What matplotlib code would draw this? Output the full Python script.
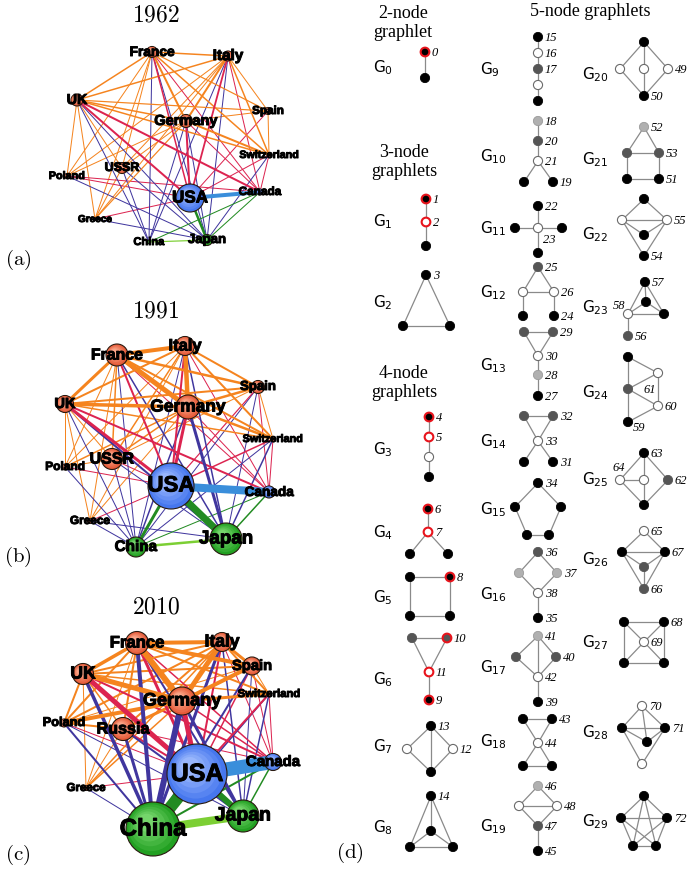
import matplotlib
matplotlib.use("Agg")
import matplotlib.pyplot as plt
from matplotlib.patches import Circle
from matplotlib.colors import to_rgb
import matplotlib.patheffects as pe

plt.rcParams['mathtext.fontset'] = 'dejavusans'
plt.rcParams['mathtext.default'] = 'regular'

# ------------------------------------------------------------------ data
CODES = ["FR", "IT", "UK", "DE", "ES", "CH", "RU", "PL", "US", "CA", "GR", "CN", "JP"]
REGION = ["EU", "EU", "EU", "EU", "EU", "EU", "EU", "EU", "AM", "AM", "EU", "AS", "AS"]

NAMES_1962 = ["France", "Italy", "UK", "Germany", "Spain", "Switzerland", "USSR", "Poland",
              "USA", "Canada", "Greece", "China", "Japan"]
NAMES_1991 = NAMES_1962
NAMES_2010 = ["France", "Italy", "UK", "Germany", "Spain", "Switzerland", "Russia", "Poland",
              "USA", "Canada", "Greece", "China", "Japan"]

# node strength (drawn as radius)
STRENGTH_1962 = [5.5, 5, 6, 6.5, 3.5, 2, 5.5, 2.5, 14, 3, 1.5, 1.5, 5.5]
STRENGTH_1991 = [11, 9.5, 8.5, 12, 6.5, 2.5, 10.5, 3, 23, 6, 2.5, 10, 16]
STRENGTH_2010 = [11.5, 9.5, 10.5, 14, 9, 2.5, 11.5, 4, 30, 8.5, 2.5, 27, 16]

EDGES_1962 = [
    ("FR", "IT", 1.5), ("FR", "UK", 1.5), ("FR", "DE", 2), ("FR", "ES", 1.2), ("FR", "CH", 1.5),
    ("FR", "RU", 1), ("FR", "PL", 1), ("FR", "GR", 1),
    ("IT", "UK", 1.5), ("IT", "DE", 2), ("IT", "ES", 1), ("IT", "CH", 1.5), ("IT", "RU", 1),
    ("IT", "PL", 1), ("IT", "GR", 1),
    ("UK", "DE", 1.5), ("UK", "ES", 1.2), ("UK", "CH", 1.5), ("UK", "RU", 1), ("UK", "PL", 1),
    ("UK", "GR", 1),
    ("DE", "ES", 1), ("DE", "CH", 2), ("DE", "RU", 1), ("DE", "PL", 1), ("DE", "GR", 1.2),
    ("ES", "CH", 1), ("RU", "GR", 1),
    ("US", "FR", 1.5), ("US", "IT", 1.8), ("US", "UK", 2), ("US", "DE", 2), ("US", "ES", 1),
    ("US", "CH", 1), ("US", "PL", 1), ("US", "GR", 1),
    ("CA", "UK", 2), ("CA", "FR", 1), ("CA", "IT", 1), ("CA", "DE", 1), ("CA", "CH", 1), ("CA", "PL", 1),
    ("JP", "FR", 1), ("JP", "IT", 1), ("JP", "UK", 1), ("JP", "DE", 1), ("JP", "CH", 1),
    ("JP", "GR", 1), ("JP", "PL", 1), ("JP", "RU", 1),
    ("CN", "FR", 1), ("CN", "UK", 1), ("CN", "DE", 1), ("CN", "IT", 1), ("CN", "RU", 1),
    ("US", "CA", 4), ("US", "JP", 2.5), ("CA", "JP", 1), ("CA", "CN", 1), ("CN", "JP", 1.2),
]

EDGES_1991 = [
    ("FR", "DE", 5), ("FR", "IT", 4), ("IT", "DE", 4.5), ("UK", "DE", 3.5), ("FR", "UK", 3),
    ("IT", "UK", 2), ("FR", "ES", 2.5), ("ES", "DE", 2.5), ("IT", "ES", 2), ("UK", "ES", 2),
    ("CH", "DE", 2.5), ("CH", "FR", 2), ("CH", "IT", 2), ("CH", "UK", 1.5), ("ES", "CH", 1),
    ("RU", "DE", 1.5), ("RU", "FR", 1.5), ("RU", "IT", 1.5), ("RU", "UK", 1), ("RU", "ES", 1),
    ("PL", "DE", 1.5), ("PL", "UK", 1), ("PL", "FR", 1), ("PL", "IT", 1), ("PL", "RU", 1),
    ("GR", "DE", 1), ("GR", "IT", 1), ("GR", "FR", 1), ("GR", "UK", 1),
    ("US", "DE", 3), ("US", "UK", 3), ("US", "FR", 2), ("US", "IT", 2), ("US", "ES", 1.2),
    ("US", "CH", 1.5), ("US", "RU", 1), ("US", "PL", 1), ("US", "GR", 1),
    ("CA", "UK", 2), ("CA", "DE", 1), ("CA", "FR", 1), ("CA", "IT", 1), ("CA", "CH", 1), ("CA", "ES", 1),
    ("JP", "DE", 3), ("JP", "UK", 2), ("JP", "FR", 1.5), ("JP", "IT", 1.5), ("JP", "CH", 1.5),
    ("JP", "ES", 1), ("JP", "RU", 1), ("JP", "GR", 1),
    ("CN", "DE", 1.5), ("CN", "UK", 1), ("CN", "FR", 1), ("CN", "IT", 1), ("CN", "RU", 1),
    ("CN", "GR", 1), ("CN", "PL", 1), ("CN", "ES", 1), ("CN", "CH", 1),
    ("US", "CA", 8), ("US", "JP", 7), ("US", "CN", 3), ("CA", "JP", 1.5), ("CA", "CN", 1),
    ("CN", "JP", 2.5),
]

EDGES_2010 = [
    ("FR", "DE", 6), ("FR", "IT", 4), ("IT", "DE", 5), ("UK", "DE", 5), ("FR", "UK", 3.5),
    ("FR", "ES", 4), ("ES", "DE", 4), ("IT", "ES", 3), ("UK", "ES", 2), ("UK", "IT", 2),
    ("CH", "DE", 3), ("CH", "FR", 2), ("CH", "IT", 2), ("CH", "UK", 1.5), ("CH", "ES", 1),
    ("RU", "DE", 3), ("RU", "IT", 2), ("RU", "FR", 2), ("RU", "UK", 1.5), ("RU", "ES", 1),
    ("PL", "DE", 4), ("PL", "FR", 2), ("PL", "IT", 2), ("PL", "UK", 2), ("PL", "RU", 2), ("PL", "ES", 1),
    ("GR", "DE", 1.5), ("GR", "IT", 1.5), ("GR", "FR", 1), ("GR", "UK", 1), ("GR", "RU", 1),
    ("US", "DE", 5), ("US", "UK", 5), ("US", "FR", 3), ("US", "IT", 2), ("US", "ES", 1.5),
    ("US", "CH", 2), ("US", "RU", 2), ("US", "PL", 1), ("US", "GR", 1),
    ("CA", "UK", 2), ("CA", "DE", 1.5), ("CA", "FR", 1.5), ("CA", "IT", 1), ("CA", "CH", 1),
    ("CA", "ES", 1), ("CA", "RU", 1),
    ("CN", "DE", 6), ("CN", "FR", 4), ("CN", "UK", 3.5), ("CN", "IT", 3), ("CN", "RU", 3),
    ("CN", "ES", 2), ("CN", "CH", 1.5), ("CN", "PL", 2), ("CN", "GR", 1),
    ("JP", "DE", 3), ("JP", "FR", 2), ("JP", "UK", 2), ("JP", "IT", 1.5), ("JP", "RU", 2),
    ("JP", "ES", 1), ("JP", "CH", 1.5), ("JP", "PL", 1),
    ("US", "CA", 14), ("US", "CN", 12), ("US", "JP", 6), ("CA", "CN", 2), ("CA", "JP", 1.5),
    ("CN", "JP", 8),
]

YEARS = ["1962", "1991", "2010"]
PANEL_TAGS = ["(a)", "(b)", "(c)", "(d)"]

# ------------------------------------------------------------------ layout (pixels)
LAYOUT_1962 = [(152, 53), (228, 57), (77, 101), (186, 122), (268, 112), (269, 156), (122, 169),
               (67, 177), (190, 199), (260, 193), (95, 220), (149, 243), (207, 241)]
LAYOUT_1991 = [(117, 356), (185, 347), (65, 405), (188, 408), (258, 388), (273, 440), (112, 460),
               (65, 468), (171, 487), (269, 493), (90, 522), (136, 548), (226, 540)]
LAYOUT_2010 = [(137, 644), (222, 643), (83, 675), (182, 702), (252, 667), (269, 695), (123, 730),
               (64, 724), (197, 775), (273, 763), (86, 789), (153, 830), (243, 817)]
LABEL_PT_1962 = [9.9, 11, 10.3, 10.5, 8.4, 7.7, 9, 7.8, 12.3, 8.5, 7.2, 8, 9.5]
LABEL_PT_1991 = [11.4, 11.9, 10.5, 12.5, 9.5, 7.8, 11.5, 8.6, 16, 9.8, 8.5, 11, 13.5]
LABEL_PT_2010 = [12, 12.6, 12.6, 13, 10.6, 8.1, 11.6, 9.2, 18, 10.8, 8.3, 17.3, 14]
TITLE_XY = [(156, 14), (156, 311), (156, 607)]
TAG_XY = [(18, 260), (18, 557), (18, 855), (350, 853)]

NODE_COL = {"EU": ("#E55A38", "#FFB59A"), "AM": ("#4677EE", "#A9C3FF"), "AS": ("#22A022", "#86E07A")}
EDGE_COL = {frozenset(["EU"]): "#F5841F", frozenset(["EU", "AM"]): "#DC2450",
            frozenset(["EU", "AS"]): "#40369E", frozenset(["AM"]): "#3A8EDB",
            frozenset(["AM", "AS"]): "#228B22", frozenset(["AS"]): "#7CCF34"}

# ------------------------------------------------------------------ graphlets
GRAPHLET_LABEL_XY = [(373, 68), (373, 222), (373, 303), (373, 450), (373, 533), (373, 598),
                     (373, 680), (373, 747), (373, 828),
                     (480, 70), (480, 157), (480, 229), (480, 293), (480, 366), (480, 442),
                     (480, 510), (480, 595), (480, 668), (480, 742), (480, 827),
                     (582, 75), (582, 160), (582, 235), (582, 308), (582, 393), (582, 480),
                     (582, 560), (582, 643), (582, 733), (582, 822)]
GRAPHLET_LAYOUT = [
    [(425, 53), (425, 79)],
    [(426, 200), (426, 223), (426, 247)],
    [(426, 276), (403, 327), (450, 327)],
    [(429, 418), (429, 438), (429, 458), (429, 478)],
    [(428, 510), (428, 533), (410, 555), (448, 555)],
    [(410, 578), (450, 578), (410, 617), (450, 617)],
    [(412, 639), (447, 639), (429, 673), (429, 701)],
    [(431, 727), (407, 750), (453, 750), (431, 773)],
    [(431, 797), (431, 832), (410, 848), (453, 848)],
    [(538, 38), (538, 54), (538, 70), (538, 86), (538, 102)],
    [(538, 122), (538, 142), (538, 162), (524, 183), (553, 183)],
    [(538, 207), (538, 229), (515, 229), (562, 229), (538, 254)],
    [(538, 268), (523, 293), (554, 293), (523, 317), (554, 317)],
    [(524, 333), (553, 333), (538, 357), (538, 376), (538, 397)],
    [(524, 417), (553, 417), (538, 442), (524, 463), (553, 463)],
    [(538, 484), (515, 508), (561, 508), (527, 536), (549, 536)],
    [(538, 553), (519, 574), (557, 574), (538, 594), (538, 619)],
    [(538, 637), (516, 658), (556, 658), (538, 678), (538, 703)],
    [(523, 720), (552, 720), (538, 744), (523, 767), (552, 767)],
    [(538, 787), (519, 807), (557, 807), (538, 827), (538, 852)],
    [(644, 43), (620, 70), (644, 70), (668, 70), (644, 97)],
    [(644, 128), (627, 154), (659, 154), (627, 180), (659, 180)],
    [(644, 200), (622, 221), (667, 221), (644, 236), (644, 257)],
    [(645, 283), (646, 303), (664, 315), (628, 315), (628, 337)],
    [(628, 358), (658, 374), (628, 390), (658, 407), (628, 423)],
    [(644, 454), (620, 481), (644, 481), (668, 481), (644, 506)],
    [(644, 532), (622, 553), (665, 553), (644, 568), (644, 590)],
    [(624, 623), (664, 623), (624, 664), (664, 664), (644, 643)],
    [(642, 707), (622, 729), (665, 729), (647, 743), (642, 765)],
    [(644, 797), (621, 819), (667, 819), (633, 847), (656, 847)],
]
GRAPHLET_NODE_TYPES = [
    ["rk", "k"], ["rk", "rw", "k"], ["k", "k", "k"],
    ["rk", "rw", "w", "k"], ["rk", "rw", "k", "k"], ["k", "rk", "k", "k"],
    ["d", "rd", "rw", "rk"], ["k", "w", "w", "k"], ["k", "k", "k", "k"],
    ["k", "w", "d", "w", "k"], ["l", "d", "w", "k", "k"], ["k", "w", "k", "k", "k"],
    ["d", "w", "w", "k", "k"], ["d", "d", "w", "l", "k"], ["d", "d", "w", "k", "k"],
    ["k", "k", "k", "k", "k"], ["d", "l", "l", "w", "k"], ["l", "d", "d", "w", "k"],
    ["k", "k", "w", "k", "k"], ["l", "w", "w", "d", "k"],
    ["k", "w", "w", "w", "k"], ["l", "d", "d", "k", "k"], ["k", "w", "w", "k", "k"],
    ["k", "k", "k", "w", "d"], ["k", "w", "d", "w", "k"], ["k", "w", "w", "d", "k"],
    ["w", "k", "k", "d", "d"], ["k", "k", "k", "k", "w"], ["w", "k", "k", "k", "w"],
    ["k", "k", "k", "k", "k"],
]
GRAPHLET_ORBITS = [
    ["0", ""], ["1", "2", ""], ["3", "", ""],
    ["4", "5", "", ""], ["6", "7", "", ""], ["", "8", "", ""],
    ["", "10", "11", "9"], ["13", "", "12", ""], ["14", "", "", ""],
    ["15", "16", "17", "", ""], ["18", "20", "21", "", "19"], ["22", "23", "", "", ""],
    ["25", "", "26", "", "24"], ["", "29", "30", "28", "27"], ["", "32", "33", "", "31"],
    ["34", "", "", "", ""], ["36", "", "37", "38", "35"], ["41", "", "40", "42", "39"],
    ["", "43", "44", "", ""], ["46", "", "48", "47", "45"],
    ["", "", "", "49", "50"], ["52", "", "53", "", "51"], ["", "", "55", "", "54"],
    ["57", "", "", "58", "56"], ["", "", "61", "60", "59"], ["63", "64", "", "62", ""],
    ["65", "", "67", "", "66"], ["", "68", "", "", "69"], ["70", "", "71", "", ""],
    ["", "", "72", "", ""],
]
K4 = [(0, 1), (0, 2), (0, 3), (1, 2), (1, 3), (2, 3)]
K5 = [(i, j) for i in range(5) for j in range(i + 1, 5)]
GRAPHLET_EDGES = [
    [(0, 1)], [(0, 1), (1, 2)], [(0, 1), (0, 2), (1, 2)],
    [(0, 1), (1, 2), (2, 3)], [(0, 1), (1, 2), (1, 3)], [(0, 1), (0, 2), (1, 3), (2, 3)],
    [(0, 1), (0, 2), (1, 2), (2, 3)], [(0, 1), (0, 2), (0, 3), (1, 3), (2, 3)], K4,
    [(0, 1), (1, 2), (2, 3), (3, 4)], [(0, 1), (1, 2), (2, 3), (2, 4)],
    [(0, 1), (1, 2), (1, 3), (1, 4)], [(0, 1), (0, 2), (1, 2), (1, 3), (2, 4)],
    [(0, 1), (0, 2), (1, 2), (2, 3), (3, 4)], [(0, 1), (0, 2), (1, 2), (2, 3), (2, 4)],
    [(0, 1), (0, 2), (1, 3), (2, 4), (3, 4)], [(0, 1), (0, 2), (1, 3), (2, 3), (3, 4)],
    [(0, 1), (0, 2), (0, 3), (1, 3), (2, 3), (3, 4)],
    [(0, 1), (0, 2), (1, 2), (2, 3), (2, 4), (3, 4)],
    [(0, 1), (0, 2), (1, 2), (1, 3), (2, 3), (3, 4)],
    [(0, 1), (0, 2), (0, 3), (1, 4), (2, 4), (3, 4)],
    [(0, 1), (0, 2), (1, 2), (1, 3), (2, 4), (3, 4)],
    [(0, 1), (0, 2), (1, 2), (1, 3), (2, 3), (1, 4), (2, 4)],
    [(0, 1), (0, 2), (0, 3), (1, 2), (1, 3), (2, 3), (3, 4)],
    [(0, 2), (2, 4), (0, 1), (1, 2), (1, 3), (2, 3), (3, 4)],
    [(0, 1), (0, 2), (0, 3), (1, 2), (1, 4), (2, 4), (3, 4)],
    [(0, 1), (0, 2), (1, 2), (1, 3), (2, 3), (1, 4), (2, 4), (3, 4)],
    [(0, 1), (0, 2), (1, 3), (2, 3), (0, 4), (1, 4), (2, 4), (3, 4)],
    [(0, 1), (0, 2), (0, 3), (1, 2), (1, 3), (2, 3), (1, 4), (2, 4)],
    K5,
]
ORBIT_OFFSET = {"23": (5, 11, "left"), "58": (-3, -9, "right"), "61": (16, 0, "left"),
                "64": (-1, -13, "center"), "59": (5, 5, "left")}
SECTION_HEADERS = [("2-node\ngraphlet", 403, 23), ("3-node\ngraphlets", 404, 162),
                   ("4-node\ngraphlets", 404, 383), ("5-node graphlets", 590, 12)]

GNODE_STYLE = {"k": ("black", "black", 0.6), "w": ("white", "#6a6a6a", 0.8),
               "d": ("#555555", "#555555", 0.6), "l": ("#b0b0b0", "#9a9a9a", 0.6),
               "rk": ("black", "#e8141c", 1.5), "rw": ("white", "#e8141c", 1.5),
               "rd": ("#555555", "#e8141c", 1.5)}

# ------------------------------------------------------------------ figure
fig = plt.figure(figsize=(6.94, 8.70), dpi=100)
ax = fig.add_axes([0, 0, 1, 1])
ax.set_xlim(0, 694)
ax.set_ylim(870, 0)
ax.set_aspect("equal")
ax.axis("off")


def mix(c1, c2, t):
    a, b = to_rgb(c1), to_rgb(c2)
    return tuple(a[i] * (1 - t) + b[i] * t for i in range(3))


def draw_network(names, strength, edges, layout, label_pt):
    idx = {c: i for i, c in enumerate(CODES)}
    for a, b, w in sorted(edges, key=lambda e: e[2]):
        i, j = idx[a], idx[b]
        col = EDGE_COL[frozenset([REGION[i], REGION[j]])]
        (x1, y1), (x2, y2) = layout[i], layout[j]
        ax.plot([x1, x2], [y1, y2], color=col, lw=w * 0.72, solid_capstyle="butt",
                zorder=1 + w * 0.01)
    for i, name in enumerate(names):
        x, y = layout[i]
        r = strength[i]
        base, light = NODE_COL[REGION[i]]
        ax.add_patch(Circle((x, y), r, fc=base, ec="#2a1a10", lw=0.8, zorder=3))
        for k in range(1, 6):
            t = k / 6
            ax.add_patch(Circle((x - r * 0.28 * t, y - r * 0.28 * t), r * (1 - 0.8 * t),
                                fc=mix(base, light, t), ec="none", zorder=3.1))
        ax.text(x, y, name, fontsize=label_pt[i], family="Liberation Sans", weight="bold",
                ha="center", va="center", color="black", zorder=5,
                path_effects=[pe.withStroke(linewidth=0.7, foreground="black")])


for year, names, st, ed, lay, lp, txy in zip(
        YEARS, [NAMES_1962, NAMES_1991, NAMES_2010], [STRENGTH_1962, STRENGTH_1991, STRENGTH_2010],
        [EDGES_1962, EDGES_1991, EDGES_2010], [LAYOUT_1962, LAYOUT_1991, LAYOUT_2010],
        [LABEL_PT_1962, LABEL_PT_1991, LABEL_PT_2010], TITLE_XY):
    draw_network(names, st, ed, lay, lp)
    ax.text(txy[0], txy[1], r"$\mathbf{%s}$" % year, fontsize=17, ha="center", va="center",
            math_fontfamily="cm")

for tag, (tx, ty) in zip(PANEL_TAGS, TAG_XY):
    ax.text(tx, ty, r"$\mathrm{%s}$" % tag, fontsize=15, ha="center", va="center",
            math_fontfamily="cm")

# graphlets
for text, hx, hy in SECTION_HEADERS:
    ax.text(hx, hy, text, fontsize=13, family="Liberation Serif", ha="center", va="center",
            linespacing=1.15)

R = 4.8
for g, (lx, ly) in enumerate(GRAPHLET_LABEL_XY):
    ax.text(lx, ly, "G$_{%d}$" % g, fontsize=11, family="DejaVu Sans", ha="left", va="center")
    pts = GRAPHLET_LAYOUT[g]
    for i, j in GRAPHLET_EDGES[g]:
        ax.plot([pts[i][0], pts[j][0]], [pts[i][1], pts[j][1]], color="#8a8a8a", lw=0.9, zorder=6)
    for (x, y), t, orb in zip(pts, GRAPHLET_NODE_TYPES[g], GRAPHLET_ORBITS[g]):
        fc, ec, lw = GNODE_STYLE[t]
        ax.add_patch(Circle((x, y), R - lw / 2 * 0.6, fc=fc, ec=ec, lw=lw, zorder=7))
        if orb:
            dx, dy, ha = ORBIT_OFFSET.get(orb, (R + 2, 0, "left"))
            ax.text(x + dx, y + dy, orb, fontsize=9, family="Liberation Serif", style="italic",
                    ha=ha, va="center", zorder=8)

fig.savefig("out.png", dpi=100)
